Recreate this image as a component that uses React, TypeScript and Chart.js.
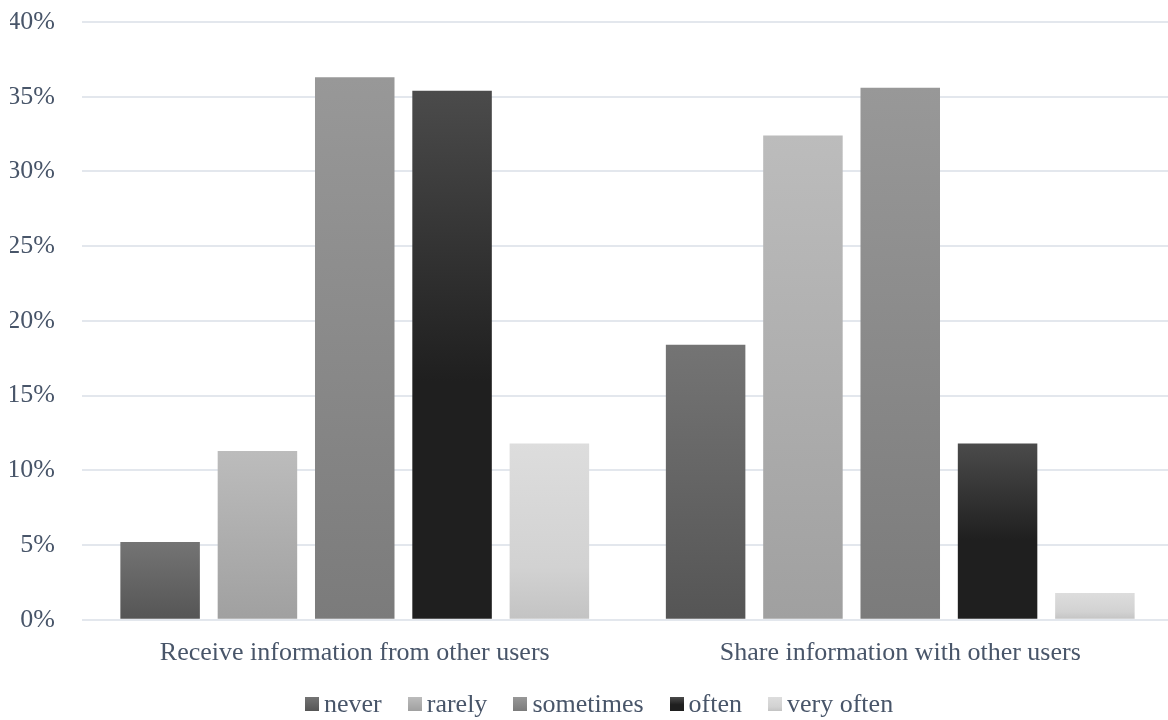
import React, { useEffect, useRef } from "react";
import { Chart, registerables } from "chart.js";

Chart.register(...registerables);

const categories = ["Receive information from other users", "Share information with other users"];
const seriesLabels = ["never", "rarely", "sometimes", "often", "very often"];
const never = [5.2, 18.4];
const rarely = [11.3, 32.4];
const sometimes = [36.3, 35.6];
const often = [35.4, 11.8];
const veryOften = [11.8, 1.8];
const yTicks = [0, 5, 10, 15, 20, 25, 30, 35, 40];

const seriesValues = [never, rarely, sometimes, often, veryOften];

const gradientStops: [number, string][][] = [
  [[0, "#747474"], [1, "#555555"]],
  [[0, "#bcbcbc"], [1, "#a0a0a0"]],
  [[0, "#989898"], [1, "#7b7b7b"]],
  [[0, "#4b4b4b"], [0.55, "#1f1f1f"], [1, "#1f1f1f"]],
  [[0, "#dddddd"], [0.7, "#d2d2d2"], [1, "#c3c3c3"]],
];

const textColor = "#485569";
const fontFamily = '"Liberation Serif", "Times New Roman", serif';

function cssGradient(stops: [number, string][]) {
  return `linear-gradient(to bottom, ${stops.map(([o, c]) => `${c} ${o * 100}%`).join(", ")})`;
}

export default function App() {
  const ref = useRef<HTMLCanvasElement>(null);

  useEffect(() => {
    if (!ref.current) return;
    const chart = new Chart(ref.current, {
      type: "bar",
      data: {
        labels: categories,
        datasets: seriesLabels.map((label, di) => ({
          label,
          data: seriesValues[di],
          borderWidth: 0,
          categoryPercentage: 0.892,
          barPercentage: 0.817,
          backgroundColor: (c: any) => {
            const stops = gradientStops[di];
            const ch = c.chart;
            const ys = ch.scales && ch.scales.y;
            if (!ys || !ch.chartArea || typeof c.raw !== "number") return stops[0][1];
            const top = ys.getPixelForValue(c.raw);
            const base = ys.getPixelForValue(0);
            const g = ch.ctx.createLinearGradient(0, top, 0, base);
            stops.forEach(([o, col]) => g.addColorStop(o, col));
            return g;
          },
        })),
      },
      options: {
        animation: false,
        responsive: true,
        maintainAspectRatio: false,
        layout: { padding: { left: 10, top: 22, right: 0, bottom: 13 } },
        plugins: {
          legend: { display: false },
          tooltip: { enabled: false },
        },
        scales: {
          x: {
            grid: { display: false },
            border: { display: false },
            ticks: {
              color: textColor,
              font: { family: fontFamily, size: 26 },
              padding: 10,
              maxRotation: 0,
              autoSkip: false,
            },
          },
          y: {
            min: yTicks[0],
            max: yTicks[yTicks.length - 1],
            afterBuildTicks: (axis: any) => {
              axis.ticks = yTicks.map((v) => ({ value: v }));
            },
            afterFit: (axis: any) => {
              axis.width = 72;
            },
            grid: {
              color: "#e3e7ed",
              lineWidth: 2,
              drawTicks: true,
              tickLength: 27,
              tickColor: "rgba(0,0,0,0)",
            },
            border: { display: false },
            ticks: {
              color: textColor,
              font: { family: fontFamily, size: 26 },
              padding: 0,
              callback: (v: any) => `${v}%`,
            },
          },
        },
      },
    });
    return () => chart.destroy();
  }, []);

  return (
    <div
      style={{
        position: "fixed",
        left: 0,
        top: 0,
        width: 1168,
        height: 720,
        overflow: "hidden",
        background: "#ffffff",
      }}
    >
      <div style={{ position: "absolute", left: 0, top: 0, width: 1173, height: 692 }}>
        <canvas ref={ref} />
      </div>
      <div
        style={{
          position: "absolute",
          left: 305,
          top: 691,
          display: "flex",
          alignItems: "center",
          gap: 26,
          fontFamily,
          fontSize: 26,
          lineHeight: "26px",
          color: textColor,
          whiteSpace: "nowrap",
        }}
      >
        {seriesLabels.map((label, i) => (
          <div key={label} style={{ display: "flex", alignItems: "center" }}>
            <span
              style={{
                display: "inline-block",
                width: 14,
                height: 14,
                marginRight: 5,
                background: cssGradient(gradientStops[i]),
              }}
            />
            <span>{label}</span>
          </div>
        ))}
      </div>
    </div>
  );
}
